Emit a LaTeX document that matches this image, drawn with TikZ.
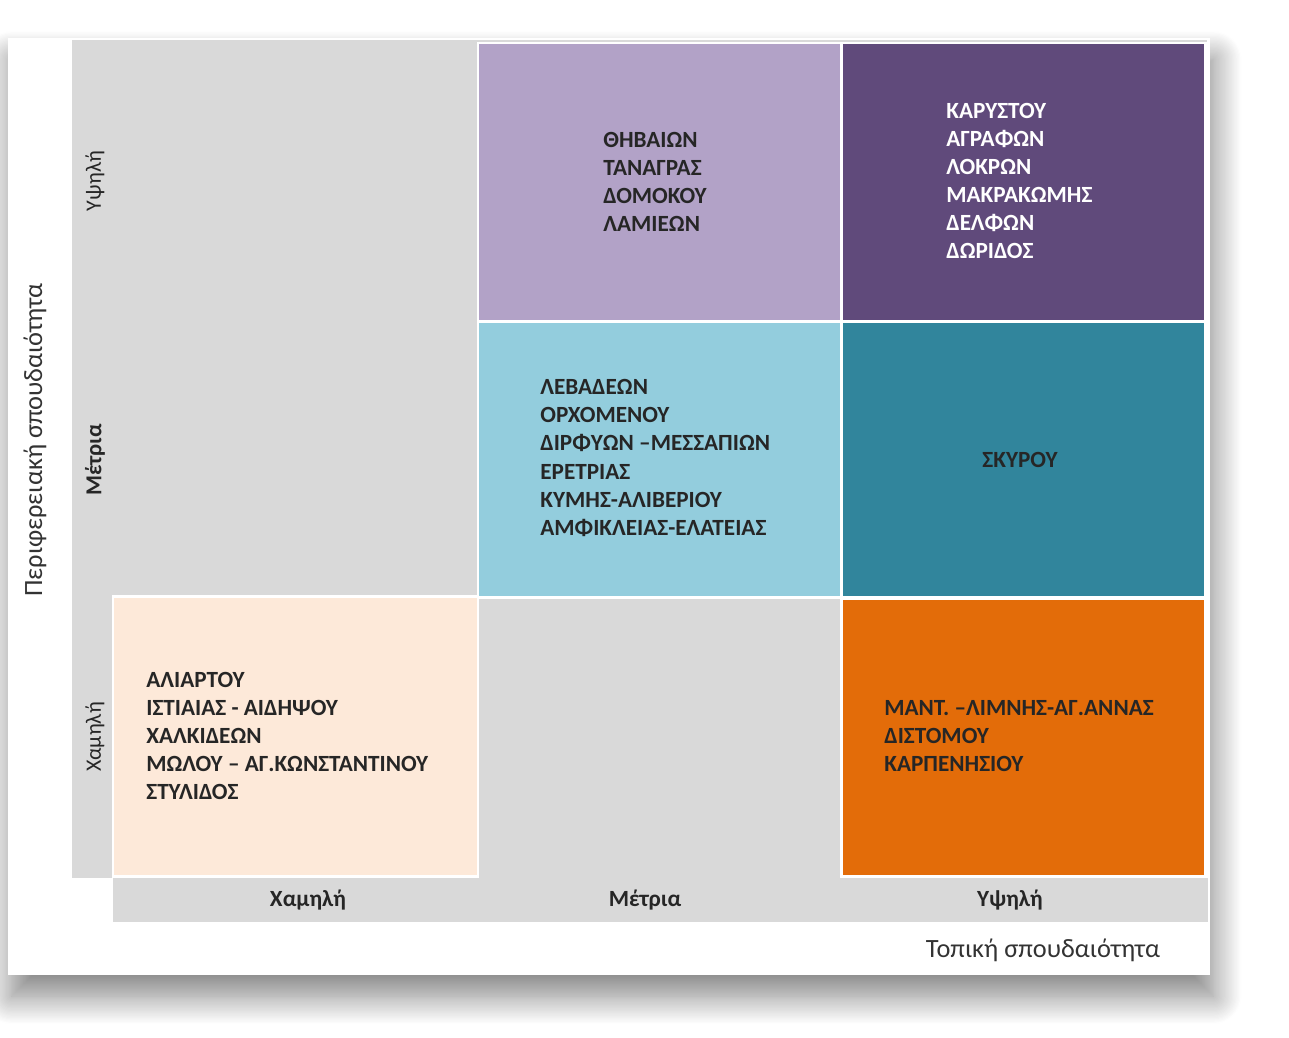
\documentclass[tikz,border=0pt]{standalone}
\usepackage{fontspec}
\setmainfont{Carlito}
\usetikzlibrary{shadows.blur, positioning}

\definecolor{gridgray}{HTML}{D9D9D9}
\definecolor{lavender}{HTML}{B2A2C7}
\definecolor{plum}{HTML}{604A7B}
\definecolor{skyblue}{HTML}{93CDDD}
\definecolor{teal}{HTML}{31859C}
\definecolor{peach}{HTML}{FDE9D9}
\definecolor{pumpkin}{HTML}{E36C09}

\begin{document}
\begin{tikzpicture}[
        x=0.02cm, y=-0.02cm,
        % --- Styles ---
        card/.style={fill=white, blur shadow={shadow xshift=2pt, shadow yshift=-12pt, shadow blur radius=16pt, shadow blur steps=24, shadow opacity=50}},
        cell/.style={draw=white, line width=1.7pt},
        names/.style={anchor=west, align=left, inner sep=0pt, font=\fontsize{13.2}{16}\selectfont\bfseries, text=black!85},
        rowlabel/.style={rotate=90, font=\fontsize{12.5}{14}\selectfont, text=black!85},
        collabel/.style={font=\fontsize{13.2}{14}\selectfont\bfseries, text=black!85},
        axistitle/.style={font=\fontsize{15}{17}\selectfont, text=black!80}
    ]
        \useasboundingbox (0,0) rectangle (1289,1038);

        % --- Card and grey frame ---
        \path[card] (8,38) rectangle (1210,975);
        \fill[gridgray] (72,40) rectangle (1207,878);
        \fill[gridgray] (113,878) rectangle (1208,922);

        % --- Cells ---
        \path[cell, fill=lavender] (478,43) rectangle (841,321);
        \path[cell, fill=plum] (841,43) rectangle (1205,321);
        \path[cell, fill=skyblue] (478,322) rectangle (841,597);
        \path[cell, fill=teal] (841,322) rectangle (1205,597);
        \path[cell, fill=peach] (113,596) rectangle (478,876);
        \path[cell, fill=pumpkin] (841,598) rectangle (1205,876);

        % --- Cell contents ---
        \node[names] (thiva) at (603,182) {ΘΗΒΑΙΩΝ\\ΤΑΝΑΓΡΑΣ\\ΔΟΜΟΚΟΥ\\ΛΑΜΙΕΩΝ};
        \node[names, text=white] (karystos) at (946,181) {ΚΑΡΥΣΤΟΥ\\ΑΓΡΑΦΩΝ\\ΛΟΚΡΩΝ\\ΜΑΚΡΑΚΩΜΗΣ\\ΔΕΛΦΩΝ\\ΔΩΡΙΔΟΣ};
        \node[names] (levadeia) at (540,458) {ΛΕΒΑΔΕΩΝ\\ΟΡΧΟΜΕΝΟΥ\\ΔΙΡΦΥΩΝ –ΜΕΣΣΑΠΙΩΝ\\ΕΡΕΤΡΙΑΣ\\ΚΥΜΗΣ-ΑΛΙΒΕΡΙΟΥ\\ΑΜΦΙΚΛΕΙΑΣ-ΕΛΑΤΕΙΑΣ};
        \node[names, anchor=center] (skyros) at (1020,460) {ΣΚΥΡΟΥ};
        \node[names] (aliartos) at (146,736) {ΑΛΙΑΡΤΟΥ\\ΙΣΤΙΑΙΑΣ - ΑΙΔΗΨΟΥ\\ΧΑΛΚΙΔΕΩΝ\\ΜΩΛΟΥ – ΑΓ.ΚΩΝΣΤΑΝΤΙΝΟΥ\\ΣΤΥΛΙΔΟΣ};
        \node[names] (mantoudi) at (884,736) {ΜΑΝΤ. –ΛΙΜΝΗΣ-ΑΓ.ΑΝΝΑΣ\\ΔΙΣΤΟΜΟΥ\\ΚΑΡΠΕΝΗΣΙΟΥ};

        % --- Axis labels ---
        \node[rowlabel] (rowhigh) at (95,181) {Υψηλή};
        \node[rowlabel, font=\fontsize{13}{14}\selectfont\bfseries] (rowmid) at (95,460) {Μέτρια};
        \node[rowlabel] (rowlow) at (95,737) {Χαμηλή};
        \node[rowlabel, axistitle] (ytitle) at (35,440) {Περιφερειακή σπουδαιότητα};

        \node[collabel] (collow) at (308,900) {Χαμηλή};
        \node[collabel] (colmid) at (645,900) {Μέτρια};
        \node[collabel] (colhigh) at (1010,900) {Υψηλή};
        \node[axistitle] (xtitle) at (1043,950) {Τοπική σπουδαιότητα};

    \end{tikzpicture}
\end{document}
